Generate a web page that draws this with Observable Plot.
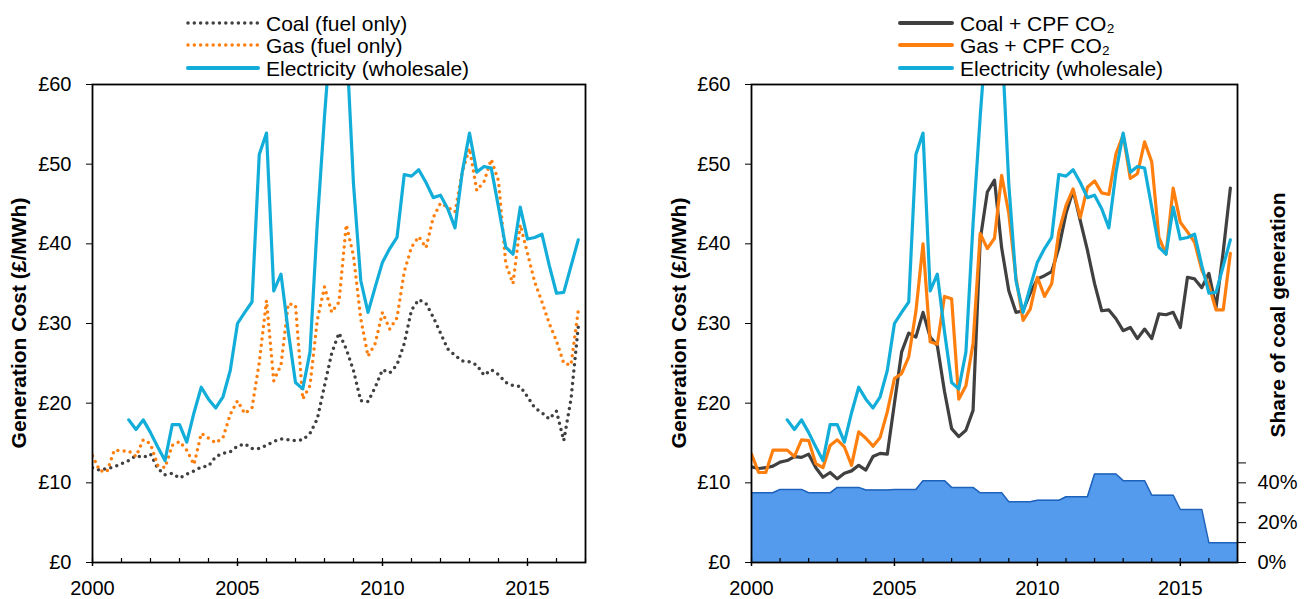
<!DOCTYPE html>
<html>
<head>
<meta charset="utf-8">
<script src="https://cdn.jsdelivr.net/npm/d3@7"></script>
<script src="https://cdn.jsdelivr.net/npm/@observablehq/plot@0.6"></script>
<style>
  body { margin: 0; background: #fff; }
  #wrap { position: relative; width: 1308px; height: 599px; overflow: hidden; background: #fff;
          font-family: "Liberation Sans", Arial, sans-serif; color: #000; }
  .panel { position: absolute; top: 0; }
  .leg { position: absolute; display: flex; align-items: center; font-size: 21px; line-height: 23px; white-space: nowrap; }
  .ytitle { position: absolute; font-size: 21px; font-weight: bold; white-space: nowrap;
            transform: translate(-50%, -50%) rotate(-90deg); }
</style>
</head>
<body>
<div id="wrap"></div>
<script>
// ---------------- DATA (quarterly, starting 2000 Q1) ----------------
const startYear = 2000;
const coalFuel = [11.9,11.6,11.8,12.0, 12.4,12.8,13.4,13.2, 13.6,11.8,11.0,11.2, 10.6,11.1,11.5,12.0,
  12.1,13.3,13.7,13.9, 14.6,14.9,14.3,14.3, 14.7,15.2,15.5,15.4, 15.3,15.4,16.2,18.0,
  22.2,26.3,28.8,26.8, 24.1,20.3,20.2,22.0, 24.2,23.8,24.8,27.5, 31.7,33.0,32.5,30.8,
  28.8,26.8,26.0,25.3, 25.2,24.8,23.5,24.2, 23.6,22.6,22.2,22.1, 20.8,19.4,18.8,18.0,
  19.0,15.3,20.5,29.6];
const gasFuel = [13.4,11.5,11.4,14.1, 14.0,14.0,13.3,15.4, 14.9,12.2,11.9,14.7, 15.2,14.1,12.3,16.2,
  15.6,15.0,15.7,18.6, 20.3,18.7,19.4,25.1, 32.9,22.8,24.8,32.5, 32.3,20.5,22.2,30.4,
  34.6,31.4,32.7,42.4, 38.5,30.6,25.9,27.5, 31.4,29.3,30.7,36.5, 39.6,40.9,39.5,43.3,
  45.1,44.6,44.0,49.0, 52.0,46.7,47.8,50.6, 47.9,37.5,35.0,42.4, 38.8,35.2,32.7,30.0,
  27.8,25.0,24.8,31.6];
const electricity = [null,null,null,null, null,17.9,16.7,17.9, 16.3,14.5,12.8,17.3, 17.3,15.1,18.8,22.0,
  20.5,19.4,20.8,24.1, 30.0,31.4,32.7,51.2, 53.9,34.1,36.2,29.0, 22.6,21.8,26.4,42.5,
  56.0,68.0,75.0,66.0, 47.5,35.4,31.4,34.6, 37.7,39.4,40.8,48.7, 48.5,49.3,47.7,45.8,
  46.1,44.4,42.0,49.0, 53.9,49.0,49.7,49.5, 44.6,39.6,38.7,44.6, 40.6,40.8,41.2,37.3,
  33.8,33.9,37.2,40.5];
const coalCPF = [12.0,11.8,11.9,12.1, 12.6,12.8,13.3,13.2, 13.6,11.9,10.7,11.3, 10.5,11.2,11.5,12.2,
  11.6,13.3,13.7,13.6, 20.0,26.4,28.8,28.3, 31.4,28.3,27.2,21.5, 16.8,15.8,16.6,19.1,
  40.5,46.5,48.0,39.5, 34.1,31.4,31.6,33.8, 35.6,36.0,36.5,39.5, 43.8,46.7,42.9,39.2,
  35.0,31.6,31.7,30.6, 29.1,29.5,28.1,29.3, 28.1,31.2,31.1,31.4, 29.5,35.8,35.6,34.5,
  36.3,32.0,39.0,47.0];
const gasCPF = [13.6,11.3,11.3,14.1, 14.1,14.1,13.3,15.4, 15.3,12.4,11.9,14.7, 15.4,14.5,12.2,16.4,
  15.6,14.6,15.7,18.9, 23.1,23.7,25.8,31.5, 40.0,27.7,27.4,33.4, 33.1,20.5,22.2,27.5,
  41.3,39.4,40.7,48.6, 43.8,35.8,30.4,31.8, 35.8,33.4,35.0,41.5, 44.8,46.9,43.3,47.1,
  47.9,46.4,46.2,51.3, 53.7,48.2,48.8,52.8, 50.3,40.8,38.7,47.0, 42.7,41.5,40.2,36.7,
  34.8,31.7,31.7,38.8];
// Annual share of coal generation (%)
const shareYears = [2000,2001,2002,2003,2004,2005,2006,2007,2008,2009,2010,2011,2012,2013,2014,2015,2016];
const coalShare = [35.0,36.7,35.0,37.7,36.4,36.7,41.1,37.7,35.0,30.5,31.2,33.0,44.4,41.1,33.8,26.6,9.9];

const costTicks = [0,10,20,30,40,50,60];
const yearLabels = [2000,2005,2010,2015];
const minorYears = d3.range(2000, 2018);
const shareTicks = [0,10,20,30,40,50];
const shareMax = 240; // secondary axis top (%)

// ---------------- BUILD TABLES ----------------
const rows = coalFuel.map((_, i) => ({
  t: startYear + i / 4,
  coalFuel: coalFuel[i], gasFuel: gasFuel[i], elec: electricity[i],
  coalCPF: coalCPF[i], gasCPF: gasCPF[i]
}));
const shareRows = shareYears.flatMap((yr, i) => [{t: yr, s: coalShare[i]}, {t: yr + 0.75, s: coalShare[i]}]);
shareRows.push({t: shareYears[shareYears.length - 1] + 1, s: coalShare[coalShare.length - 1]});
const toCost = s => s * 60 / shareMax;

const C = {coal: "#404040", gas: "#FF7F0E", elec: "#12ADD9", area: "#549BEE", areaLine: "#1E62BC"};
const FONT = "'Liberation Sans', Arial, sans-serif";

function basePlot(opts, marks) {
  return Plot.plot({
    width: 654, height: 599,
    marginTop: 84, marginBottom: 37,
    marginLeft: opts.ml, marginRight: opts.mr,
    x: {domain: [2000, 2017]},
    y: {domain: [0, 60]},
    style: {fontFamily: FONT, fontSize: "20px", color: "#000", background: "transparent", overflow: "visible"},
    marks: [
      ...marks,
      Plot.ruleX(minorYears, {x: d => d, y1: 0, y2: 0.5, stroke: "#000", strokeWidth: 1.2}),
      Plot.axisX({ticks: yearLabels, tickFormat: d => String(d), tickSize: 4, tickPadding: 14, label: null, strokeWidth: 1.5}),
      Plot.axisY({ticks: costTicks, tickFormat: d => "£" + d, tickSize: 6, tickPadding: 15, label: null}),
      Plot.frame({stroke: "#000", strokeWidth: 1.8}),
      ...(opts.extra || [])
    ]
  });
}

const dotted = {strokeWidth: 3.5, strokeDasharray: "0 6.3", strokeLinecap: "round", clip: true};
const solid = {strokeWidth: 3.2, strokeLinejoin: "round", clip: true};

const left = basePlot({ml: 92, mr: 69}, [
  Plot.line(rows, {x: "t", y: "coalFuel", stroke: C.coal, ...dotted}),
  Plot.line(rows, {x: "t", y: "gasFuel", stroke: C.gas, ...dotted}),
  Plot.line(rows, {x: "t", y: "elec", stroke: C.elec, ...solid})
]);

const right = basePlot({ml: 97, mr: 71, extra: [
  Plot.axisY({anchor: "right", ticks: shareTicks.map(toCost),
    tickFormat: d => { const p = Math.round(d * shareMax / 60); return p % 20 === 0 ? p + "%" : ""; },
    tickSize: 8, tickPadding: 12, label: null})
]}, [
  Plot.areaY(shareRows, {x: "t", y: d => toCost(d.s), fill: C.area}),
  Plot.line(shareRows, {x: "t", y: d => toCost(d.s), stroke: C.areaLine, strokeWidth: 1.5}),
  Plot.line(rows, {x: "t", y: "coalCPF", stroke: C.coal, ...solid}),
  Plot.line(rows, {x: "t", y: "gasCPF", stroke: C.gas, ...solid}),
  Plot.line(rows, {x: "t", y: "elec", stroke: C.elec, ...solid})
]);

const wrap = document.getElementById("wrap");
left.classList.add("panel"); left.style.left = "0px";
right.classList.add("panel"); right.style.left = "654px";
wrap.appendChild(left); wrap.appendChild(right);

// ---------------- LEGENDS & TITLES ----------------
function legend(x, y, label, color, dash, swW) {
  const d = document.createElement("div");
  d.className = "leg";
  d.style.left = x + "px"; d.style.top = (y - 11.5) + "px";
  const svg = `<svg width="${swW}" height="10" style="margin-right:6px;overflow:visible"><line x1="2" y1="5" x2="${swW - 2}" y2="5" stroke="${color}" stroke-width="${dash ? 3.5 : 4}" stroke-linecap="round" ${dash ? 'stroke-dasharray="0 6.3"' : ''}/></svg>`;
  d.innerHTML = svg + `<span>${label}</span>`;
  wrap.appendChild(d);
}
legend(186, 23, "Coal (fuel only)", C.coal, true, 74);
legend(186, 45, "Gas (fuel only)", C.gas, true, 74);
legend(186, 68, "Electricity (wholesale)", C.elec, false, 74);
legend(898, 23, "Coal + CPF CO₂", C.coal, false, 56);
legend(898, 45, "Gas + CPF CO₂", C.gas, false, 56);
legend(898, 68, "Electricity (wholesale)", C.elec, false, 56);

function ytitle(cx, cy, text) {
  const d = document.createElement("div");
  d.className = "ytitle";
  d.style.left = cx + "px"; d.style.top = cy + "px";
  d.textContent = text;
  wrap.appendChild(d);
}
ytitle(19, 323, "Generation Cost (£/MWh)");
ytitle(679, 323, "Generation Cost (£/MWh)");
ytitle(1278, 315, "Share of coal generation");
</script>
</body>
</html>
